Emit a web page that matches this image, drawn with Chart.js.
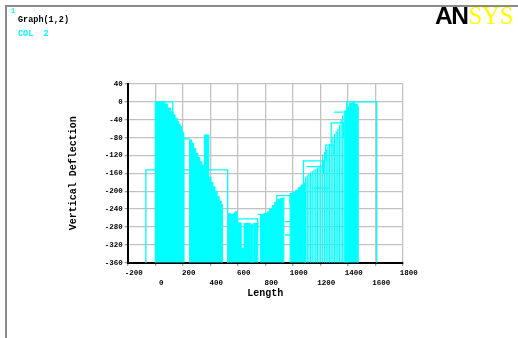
<!DOCTYPE html>
<html><head><meta charset="utf-8">
<script src="https://cdn.jsdelivr.net/npm/chart.js@4"></script>
<style>
html,body{margin:0;padding:0;background:#fff;width:518px;height:338px;overflow:hidden;}
#wrap{position:relative;width:518px;height:338px;overflow:hidden;}
#frame{position:absolute;left:5px;top:5px;width:520px;height:340px;border-top:2px solid #8a8a8a;border-left:2px solid #8a8a8a;}
canvas{position:absolute;left:0;top:0;}
.t{position:absolute;font-family:"Liberation Mono",monospace;font-weight:bold;white-space:pre;line-height:1;}
</style></head><body>
<div id="wrap">
<div id="frame"></div>
<canvas id="c" width="518" height="338"></canvas>
<div class="t" style="left:11px;top:8px;font-size:7px;color:#00ffff">1</div>
<div class="t" style="left:18px;top:16px;font-size:8.5px;color:#000">Graph(1,2)</div>
<div class="t" style="left:18px;top:30px;font-size:8.5px;color:#00ffff">COL  2</div>
<div style="position:absolute;left:435px;top:4px;font-size:24.5px;line-height:1;white-space:pre"><span style="font-family:'Liberation Sans';font-weight:900;color:#000;letter-spacing:-1.5px">AN</span><span style="font-family:'Liberation Serif';color:#ffff00;margin-left:1px">SYS</span></div>
</div>
<script>
// ---- data ----
const xTickLabels = ['-200','0','200','400','600','800','1000','1200','1400','1600','1800'];
const yTickLabels = ['-360','-320','-280','-240','-200','-160','-120','-80','-40','0','40'];

// solid (densely drawn) blocks: top edge, null separates blocks
const fillX = [0,0,40,70,88,110,130,145,160,172,182,195,208,210,210, null,
  250,250,265,280,295,310,325,340,357,357,390,390,405,420,435,450,465,480,490,490, null,
  527,527,550,570,580,597,597,626,626,646,646,694,694, null,
  713,713,747,747, null,
  766,766,790,815,830,850,870,890,910,936,936, null,
  981,981,1000,1020,1040,1060,1080,1090,1090, null,
  1375,1375,1395,1410,1430,1450,1470,1477,1477];
const fillY = [-360,0,-1,-5,-14,-22,-29,-37,-44,-50,-55,-68,-81,-85,-360, null,
  -360,-85,-92,-104,-115,-124,-134,-142,-150,-74,-74,-168,-180,-190,-200,-212,-222,-230,-234,-360, null,
  -360,-250,-252,-250,-246,-246,-271,-272,-328,-328,-272,-274,-360, null,
  -360,-272,-270,-360, null,
  -360,-252,-250,-246,-240,-232,-224,-218,-216,-214,-360, null,
  -360,-205,-202,-198,-192,-186,-182,-180,-360, null,
  -360,-20,-12,-4,-2,-5,-8,-10,-360];

// thin single vertical lines (from bottom to value)
const stemX = [700,706,1094,1106,1118,1130,1142,1155,1168,1180,1192,1205,1218,1232,1244,1256,1268,1280,1292,1304,1316,1328,1340,1352,1364];
const stemY = [-274,-272,-167,-164,-161,-158,-155,-152,-150,-147,-143,-140,-118,-112,-106,-100,-94,-88,-80,-72,-66,-60,-52,-40,-30];

// connecting outline path, null separates pieces
const outX = [-68,-68,527,527, null, 0,128,128, null, 186,186, null, 186,250, null,
  600,600,745,745, null, 745,835,835, null, 884,884,981,981, null, 944,981, null, 944,981, null,
  1078,1078,1223,1223, null, 1100,1223, null, 1150,1270, null, 1240,1240,1300,1300, null,
  1280,1280,1369,1369, null, 1300,1369, null, 1393,1393,1611,1611];
const outY = [-360,-152,-152,-360, null, 0,0,-28, null, -55,-120, null, -83,-83, null,
  -300,-262,-262,-290, null, -252,-252,-300, null, -240,-210,-210,-230, null, -268,-268, null, -298,-298, null,
  -200,-132,-132,-160, null, -145,-145, null, -193,-193, null, -130,-97,-97,-120, null,
  -90,-47,-47,-80, null, -23,-23, null, -360,0,0,-360];

// ---- build ----
function pts(xs, ys){
  const out=[]; let last=0;
  xs.forEach((x,i)=>{ if(x===null){ out.push({x:last,y:null}); } else { out.push({x:x,y:ys[i]}); last=x; } });
  return out;
}
const stemPts=[];
stemX.forEach((x,i)=>{ stemPts.push({x:x,y:-360},{x:x,y:stemY[i]},{x:x,y:null}); });

const CY='#00ffff';
const mono='"Liberation Mono", monospace';
new Chart(document.getElementById('c'),{
  type:'scatter',
  data:{datasets:[
    {data:pts(fillX,fillY),showLine:true,stepped:'before',fill:'start',backgroundColor:CY,borderColor:CY,borderWidth:1,pointRadius:0,spanGaps:false},
    {data:stemPts,showLine:true,fill:false,borderColor:CY,borderWidth:1.2,pointRadius:0,spanGaps:false},
    {data:pts(outX,outY),showLine:true,fill:false,borderColor:CY,borderWidth:1.3,pointRadius:0,spanGaps:false}
  ]},
  options:{
    responsive:false,animation:false,
    layout:{padding:{left:67,top:84,right:115.3,bottom:38.5}},
    plugins:{legend:{display:false},tooltip:{enabled:false}},
    scales:{
      x:{type:'linear',min:-200,max:1800,
        afterFit:s=>{s.height=36.8;},
        ticks:{stepSize:200,autoSkip:false,maxRotation:0,padding:2,labelOffset:6,color:'#000',
          font:{family:mono,size:7.5,weight:'bold',lineHeight:1.33},
          callback:(v,i)=> i%2===0 ? xTickLabels[i] : ['', xTickLabels[i]]},
        grid:{color:'#c2c2c2',lineWidth:1.3,tickLength:3,tickColor:'#9a9a9a'},
        border:{color:'#000',width:2},
        title:{display:true,text:'Length',color:'#000',padding:0,font:{family:mono,size:10,weight:'bold',lineHeight:1.2}}
      },
      y:{type:'linear',min:-360,max:40,
        afterFit:s=>{s.width=60.7;},
        ticks:{stepSize:40,padding:2,color:'#000',font:{family:mono,size:7.5,weight:'bold'},
          callback:(v,i)=> yTickLabels[i]},
        grid:{color:'#c2c2c2',lineWidth:1.3,tickLength:3,tickColor:'#9a9a9a'},
        border:{color:'#000',width:2},
        title:{display:true,text:'Vertical Deflection',color:'#000',padding:0,font:{family:mono,size:10,weight:'bold',lineHeight:1.2}}
      }
    }
  }
});
</script>
</body></html>
